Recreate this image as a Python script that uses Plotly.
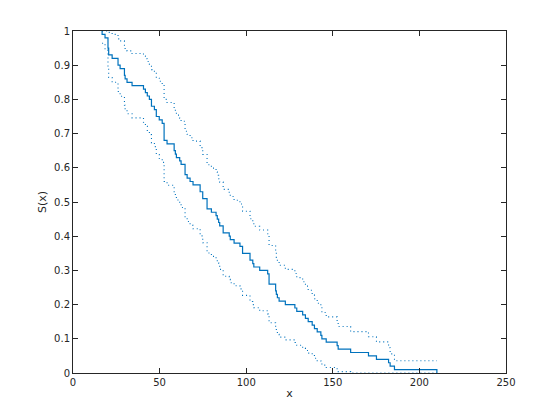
import plotly.graph_objects as go

times = [16.8, 18.5, 20.2, 20.6, 22.6, 26.0, 27.2, 29.7, 30.1, 31.2, 34.1, 40.7, 41.8, 42.9, 44.1,
         45.3, 47.0, 48.1, 49.8, 51.5, 52.6, 54.3, 58.4, 59.1, 59.7, 61.6, 62.4, 64.7, 65.9, 67.6,
         69.3, 73.4, 74.9, 77.4, 79.9, 82.6, 83.3, 84.1, 84.7, 86.7, 90.2, 90.8, 93.0, 96.4, 97.9,
         102.2, 103.8, 104.4, 107.8, 112.4, 113.2, 117.0, 117.4, 118.0, 119.0, 122.6, 128.1, 129.2,
         132.6, 134.2, 135.8, 138.1, 139.4, 141.0, 143.1, 143.7, 146.2, 152.5, 153.1, 160.3, 170.6,
         175.2, 182.2, 183.1, 185.6, 210.1]
surv = [0.99, 0.98, 0.95, 0.93, 0.92, 0.90, 0.89, 0.87, 0.86, 0.85, 0.84, 0.83, 0.82, 0.81, 0.80,
        0.78, 0.77, 0.75, 0.74, 0.73, 0.68, 0.67, 0.65, 0.64, 0.63, 0.62, 0.61, 0.58, 0.57, 0.56,
        0.55, 0.53, 0.51, 0.48, 0.47, 0.46, 0.45, 0.44, 0.43, 0.41, 0.40, 0.39, 0.38, 0.37, 0.35,
        0.33, 0.32, 0.31, 0.30, 0.29, 0.26, 0.24, 0.23, 0.22, 0.21, 0.20, 0.19, 0.18, 0.17, 0.16,
        0.15, 0.14, 0.13, 0.12, 0.11, 0.10, 0.09, 0.08, 0.07, 0.06, 0.05, 0.04, 0.03, 0.02, 0.01, 0.00]
upper = [1.0, 1.0, 1.0, 0.996, 0.990, 0.977, 0.971, 0.957, 0.949, 0.942, 0.934, 0.927, 0.919, 0.911, 0.903,
         0.887, 0.878, 0.862, 0.853, 0.844, 0.800, 0.791, 0.773, 0.764, 0.754, 0.745, 0.736, 0.707, 0.698, 0.688,
         0.678, 0.659, 0.639, 0.609, 0.599, 0.588, 0.578, 0.568, 0.558, 0.537, 0.526, 0.516, 0.505, 0.494, 0.473,
         0.451, 0.440, 0.429, 0.418, 0.407, 0.373, 0.350, 0.338, 0.327, 0.315, 0.303, 0.291, 0.279, 0.267, 0.254,
         0.242, 0.229, 0.217, 0.204, 0.191, 0.177, 0.164, 0.150, 0.136, 0.121, 0.106, 0.091, 0.074, 0.056, 0.036, 0.036]
lower = [0.964, 0.944, 0.894, 0.864, 0.850, 0.823, 0.809, 0.783, 0.771, 0.758, 0.746, 0.733, 0.721, 0.709, 0.697,
         0.673, 0.662, 0.639, 0.627, 0.616, 0.560, 0.549, 0.527, 0.516, 0.506, 0.495, 0.484, 0.453, 0.443, 0.432,
         0.422, 0.401, 0.381, 0.351, 0.341, 0.332, 0.322, 0.312, 0.303, 0.283, 0.274, 0.264, 0.255, 0.246, 0.227,
         0.209, 0.200, 0.191, 0.182, 0.173, 0.147, 0.130, 0.122, 0.113, 0.105, 0.097, 0.089, 0.081, 0.073, 0.066,
         0.058, 0.051, 0.043, 0.036, 0.029, 0.023, 0.016, 0.010, 0.004, 0.0, 0.0, 0.0, 0.0, 0.0, 0.0, 0.0]

x_ticks = [0, 50, 100, 150, 200, 250]
y_ticks = [0, 0.1, 0.2, 0.3, 0.4, 0.5, 0.6, 0.7, 0.8, 0.9, 1]
y_tick_labels = ["0", "0.1", "0.2", "0.3", "0.4", "0.5", "0.6", "0.7", "0.8", "0.9", "1"]

BLUE = "#0072BD"
AX = "#262626"

fig = go.Figure()
fig.add_trace(go.Scatter(x=[times[0]] + times, y=[1.0] + surv, mode="lines",
                         line=dict(color=BLUE, width=1.2, shape="hv"), showlegend=False))
fig.add_trace(go.Scatter(x=times, y=upper, mode="lines",
                         line=dict(color=BLUE, width=1.1, shape="hv", dash="1px,3px"), showlegend=False))
fig.add_trace(go.Scatter(x=times, y=lower, mode="lines",
                         line=dict(color=BLUE, width=1.1, shape="hv", dash="1px,3px"), showlegend=False))

axis_common = dict(showline=True, linecolor=AX, linewidth=1, mirror="ticks", ticks="inside",
                   ticklen=5, tickcolor=AX, tickwidth=1, showgrid=False, zeroline=False,
                   tickfont=dict(family="DejaVu Sans", size=10, color=AX))

fig.update_layout(
    width=560, height=420,
    margin=dict(l=65, r=62, t=23, b=55),
    paper_bgcolor="white", plot_bgcolor="white",
    xaxis=dict(range=[0, 250], tickvals=x_ticks, ticktext=[str(v) for v in x_ticks],
               title=dict(text="x", font=dict(family="DejaVu Sans", size=11, color=AX), standoff=2),
               **axis_common),
    yaxis=dict(range=[0, 1], tickvals=y_ticks, ticktext=y_tick_labels,
               title=dict(text="S(x)", font=dict(family="DejaVu Sans", size=11, color=AX), standoff=5),
               **axis_common),
)

fig.write_html("out.html")
